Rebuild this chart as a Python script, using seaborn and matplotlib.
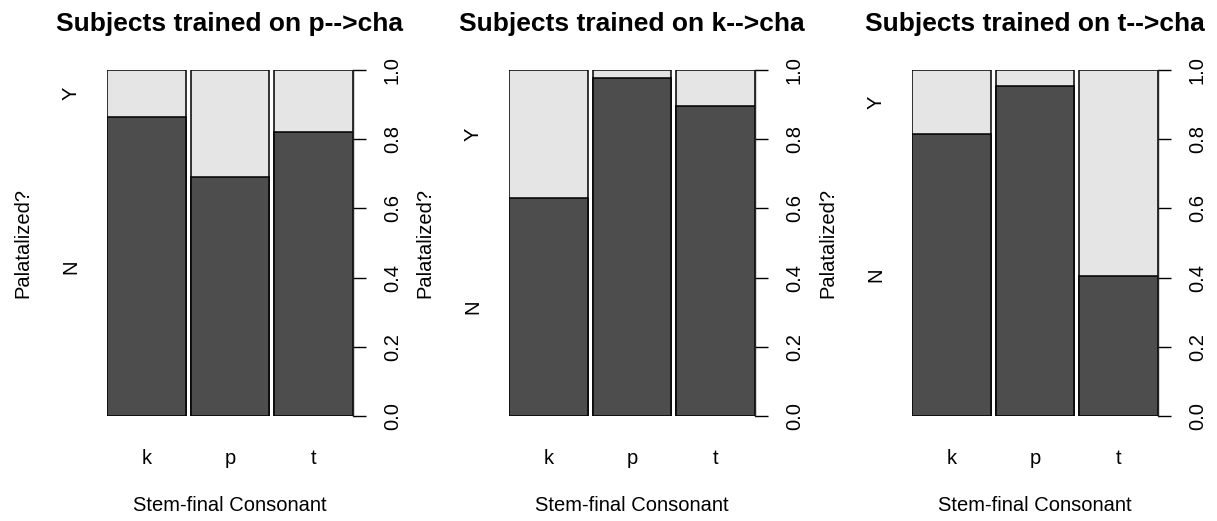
import matplotlib
matplotlib.use('Agg')
import matplotlib.pyplot as plt
import seaborn as sns
import pandas as pd

sns.set_style('white')
plt.rcParams['font.family'] = ['Liberation Sans', 'DejaVu Sans']
plt.rcParams.update({'text.color': 'black', 'axes.labelcolor': 'black',
                     'xtick.color': 'black', 'ytick.color': 'black'})

# data read off the spineplots: share of "N" (not palatalized) per stem-final consonant
training = ['p', 'k', 't']
consonants = ['k', 'p', 't']
prop_n = {
    'p': [0.863, 0.690, 0.822],
    'k': [0.629, 0.978, 0.896],
    't': [0.815, 0.954, 0.405],
}
right_ticks = [0.0, 0.2, 0.4, 0.6, 0.8, 1.0]

DARK = '#4d4d4d'
LIGHT = '#e5e5e5'
W = 0.94

fig = plt.figure(figsize=(12.17, 5.21), dpi=100)
lefts = [107, 509, 912]

for left, tr in zip(lefts, training):
    ax = fig.add_axes([left / 1217, 105 / 521, 246 / 1217, 346 / 521])
    df = pd.DataFrame({'cons': consonants, 'N': prop_n[tr], 'total': [1.0] * len(consonants)})

    # whole bar = Y (light), then N drawn over from the bottom (dark)
    sns.barplot(data=df, x='cons', y='total', color=LIGHT, saturation=1,
                edgecolor='black', linewidth=1.1, width=W, ax=ax)
    sns.barplot(data=df, x='cons', y='N', color=DARK, saturation=1,
                edgecolor='black', linewidth=1.1, width=W, ax=ax)

    ax.set_xlim(-W / 2, len(consonants) - 1 + W / 2)
    ax.set_ylim(0, 1)

    # category labels at the middles of the first bar's segments (left side)
    ax2 = ax.twinx()
    ax2.set_ylim(0, 1)
    first = prop_n[tr][0]
    ax2.set_yticks([first / 2, (1 + first) / 2])
    ax2.set_yticklabels(['N', 'Y'], rotation=90, va='center')
    ax2.yaxis.tick_left()
    ax2.tick_params(axis='y', length=0, pad=19, labelsize=14.5)
    for s in ax2.spines.values():
        s.set_visible(False)

    for s in ['top', 'left', 'bottom']:
        ax.spines[s].set_visible(False)
    ax.spines['right'].set_visible(True)
    ax.spines['right'].set_linewidth(1.0)

    ax.tick_params(axis='x', length=0, pad=24, labelsize=14.5)
    ax.yaxis.tick_right()
    ax.set_yticks(right_ticks)
    ax.set_yticklabels([f'{t:.1f}' for t in right_ticks], rotation=90, va='center')
    ax.tick_params(axis='y', length=9.5, width=1.0, pad=12, labelsize=14.5)

    ax.set_title(f'Subjects trained on {tr}-->cha', fontsize=19, fontweight='bold', pad=28)
    ax.set_xlabel('Stem-final Consonant', fontsize=14.5)
    ax.xaxis.set_label_coords(0.5, -0.232)
    ax.set_ylabel('Palatalized?', fontsize=14.5)
    ax.yaxis.set_label_position('left')
    ax.yaxis.set_label_coords(-0.305, 0.5)

plt.savefig('out.png', dpi=100)
plt.close()
print('OK: out.png')
